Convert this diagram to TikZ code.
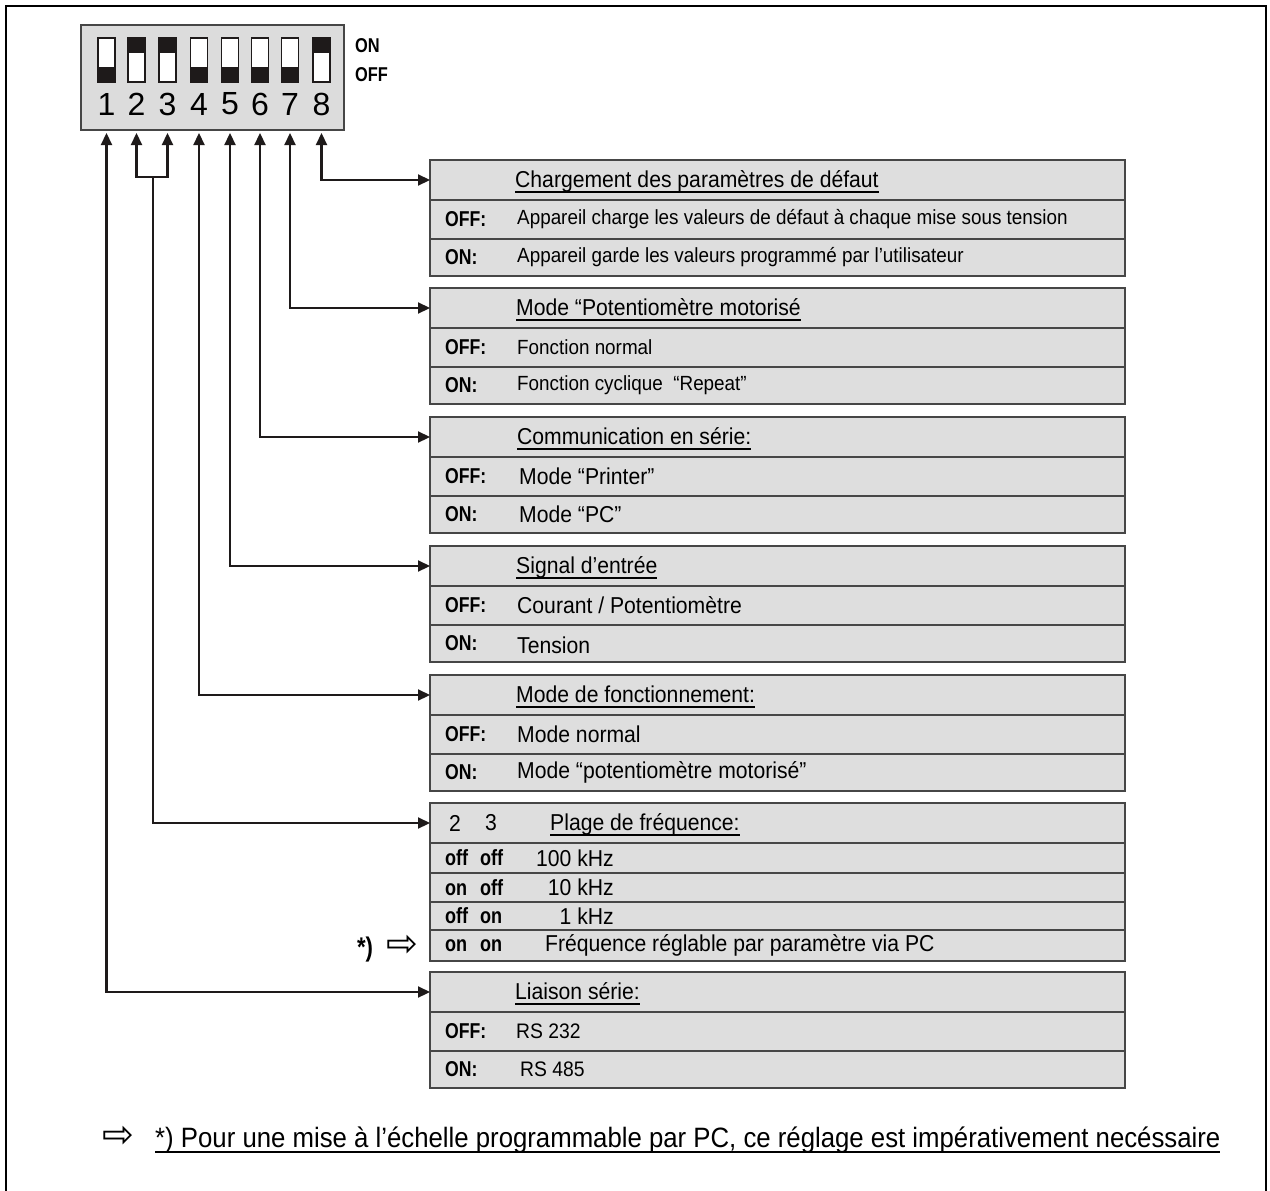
\documentclass[tikz,border=0pt]{standalone}
\usepackage{fontspec}
\setmainfont{Liberation Sans}[FakeStretch=0.92]
\newfontfamily\lblfont{Liberation Sans}[FakeStretch=0.82]
\newfontfamily\numfont{Liberation Sans}
\newfontfamily\symfont{DejaVu Sans}
\newcommand{\myul}[1]{\setbox0\hbox{#1}\rlap{\vrule height -3.8pt depth 5.6pt width \wd0}\box0}
\usetikzlibrary{arrows.meta}
\definecolor{cellgray}{RGB}{222,222,222}
\definecolor{dipgray}{RGB}{220,220,220}
\definecolor{bordergray}{RGB}{70,70,70}
\definecolor{swblack}{RGB}{30,26,26}
\tikzset{
  frame/.style={draw=black, line width=2pt},
  dipbox/.style={draw=bordergray, fill=dipgray, line width=1.5pt, minimum width=263pt, minimum height=105pt, inner sep=0pt},
  swbase/.style={draw=swblack, fill=white, line width=1.2pt, minimum width=17pt, minimum height=44pt, inner sep=0pt},
  swlow/.style={swbase, path picture={\fill[swblack] (path picture bounding box.south west) rectangle ([yshift=15pt]path picture bounding box.south east);}},
  swhigh/.style={swbase, path picture={\fill[swblack] (path picture bounding box.north west) rectangle ([yshift=-15pt]path picture bounding box.north east);}},
  num/.style={font=\numfont\fontsize{32}{36}\selectfont, inner sep=0pt},
  onoff/.style={font=\lblfont\bfseries\fontsize{20}{22}\selectfont, inner sep=0pt, anchor=west},
  cell/.style={draw=bordergray, fill=cellgray, line width=1.4pt, anchor=north west, minimum width=695pt, inner sep=0pt, outer sep=0pt},
  title/.style={font=\fontsize{23}{27}\selectfont, anchor=base west, inner sep=0pt},
  desc/.style={font=\fontsize{23}{27}\selectfont, anchor=west, inner sep=0pt},
  descsmall/.style={font=\fontsize{20.5}{24}\selectfont, anchor=west, inner sep=0pt},
  lbl/.style={font=\lblfont\bfseries\fontsize{21.5}{25}\selectfont, anchor=west, inner sep=0pt},
  combo/.style={font=\lblfont\bfseries\fontsize{22}{25}\selectfont, anchor=west, inner sep=0pt},
  tipA/.tip={Triangle[length=12pt,width=11pt]},
  conn/.style={draw=swblack, line width=2.2pt, {tipA}-{tipA}},
  connend/.style={draw=swblack, line width=2.2pt, -{tipA}},
  foot/.style={font=\fontsize{28}{32}\selectfont, anchor=base west, inner sep=0pt},
  sym/.style={font=\symfont\fontsize{38}{40}\selectfont, inner sep=0pt}
}
\begin{document}
\begin{tikzpicture}[x=1pt,y=-1pt]
\useasboundingbox (0,0) rectangle (1270,1191);
\draw[frame] (6,1195) -- (6,6) -- (1266,6) -- (1266,1195);

% DIP switch block
\node[dipbox] (dip) at (212.5,77.5) {};
\node[swlow]  (sw1) at (106.5,60) {};
\node[swhigh] (sw2) at (136.5,60) {};
\node[swhigh] (sw3) at (167.5,60) {};
\node[swlow]  (sw4) at (199,60) {};
\node[swlow]  (sw5) at (230,60) {};
\node[swlow]  (sw6) at (260,60) {};
\node[swlow]  (sw7) at (290,60) {};
\node[swhigh] (sw8) at (321.5,60) {};
\node[num] (n1) at (106.5,104) {1};
\node[num] (n2) at (136.5,104) {2};
\node[num] (n3) at (167.5,104) {3};
\node[num] (n4) at (199,104) {4};
\node[num] (n5) at (230,104) {5};
\node[num] (n6) at (260,104) {6};
\node[num] (n7) at (290,104) {7};
\node[num] (n8) at (321.5,104) {8};
\node[onoff] (onlbl) at (355,46) {ON};
\node[onoff] (offlbl) at (355,75) {OFF};

% Table 1
\node[cell, minimum height=40pt] (t1h) at (430,160) {};
\node[cell, minimum height=39pt] (t1a) at (430,200) {};
\node[cell, minimum height=37pt] (t1b) at (430,239) {};
\node[title] (t1t) at (515,187) {\myul{Chargement des paramètres de défaut}};
\node[lbl] (t1al) at (445,219.5) {OFF:};
\node[descsmall] (t1ad) at (517,219.5) {Appareil charge les valeurs de défaut à chaque mise sous tension};
\node[lbl] (t1bl) at (445,257.5) {ON:};
\node[descsmall] (t1bd) at (517,257.5) {Appareil garde les valeurs programmé par l’utilisateur};

% Table 2
\node[cell, minimum height=40pt] (t2h) at (430,288) {};
\node[cell, minimum height=39pt] (t2a) at (430,328) {};
\node[cell, minimum height=37pt] (t2b) at (430,367) {};
\node[title] (t2t) at (516,315) {\myul{Mode “Potentiomètre motorisé}};
\node[lbl] (t2al) at (445,347.5) {OFF:};
\node[descsmall] (t2ad) at (517,347.5) {Fonction normal};
\node[lbl] (t2bl) at (445,385.5) {ON:};
\node[descsmall] (t2bd) at (517,385.5) {Fonction cyclique \ “Repeat”};

% Table 3
\node[cell, minimum height=40pt] (t3h) at (430,417) {};
\node[cell, minimum height=39pt] (t3a) at (430,457) {};
\node[cell, minimum height=37pt] (t3b) at (430,496) {};
\node[title] (t3t) at (517,444) {\myul{Communication en série:}};
\node[lbl] (t3al) at (445,476.5) {OFF:};
\node[desc] (t3ad) at (519,476.5) {Mode “Printer”};
\node[lbl] (t3bl) at (445,514.5) {ON:};
\node[desc] (t3bd) at (519,514.5) {Mode “PC”};

% Table 4
\node[cell, minimum height=40pt] (t4h) at (430,546) {};
\node[cell, minimum height=39pt] (t4a) at (430,586) {};
\node[cell, minimum height=37pt] (t4b) at (430,625) {};
\node[title] (t4t) at (516,573) {\myul{Signal d’entrée}};
\node[lbl] (t4al) at (445,605.5) {OFF:};
\node[desc] (t4ad) at (517,605.5) {Courant / Potentiomètre};
\node[lbl] (t4bl) at (445,643.5) {ON:};
\node[desc] (t4bd) at (517,645.5) {Tension};

% Table 5
\node[cell, minimum height=40pt] (t5h) at (430,675) {};
\node[cell, minimum height=39pt] (t5a) at (430,715) {};
\node[cell, minimum height=37pt] (t5b) at (430,754) {};
\node[title] (t5t) at (516,702) {\myul{Mode de fonctionnement:}};
\node[lbl] (t5al) at (445,734.5) {OFF:};
\node[desc] (t5ad) at (517,734.5) {Mode normal};
\node[lbl] (t5bl) at (445,772.5) {ON:};
\node[desc] (t5bd) at (517,772.5) {Mode “potentiomètre motorisé”};

% Table 6
\node[cell, minimum height=40pt] (t6h) at (430,803) {};
\node[cell, minimum height=30pt] (t6a) at (430,843) {};
\node[cell, minimum height=29pt] (t6b) at (430,873) {};
\node[cell, minimum height=28pt] (t6c) at (430,902) {};
\node[cell, minimum height=31pt] (t6d) at (430,930) {};
\node[desc] (t6h2) at (449,823) {2};
\node[desc] (t6h3) at (485,823) {3};
\node[title] (t6t) at (550,830) {\myul{Plage de fréquence:}};
\node[combo] (t6al) at (445,858) {\makebox[35pt][l]{off}off};
\node[desc, anchor=east] (t6ad) at (614,858) {100 kHz};
\node[combo] (t6bl) at (445,887.5) {\makebox[35pt][l]{on}off};
\node[desc, anchor=east] (t6bd) at (614,887.5) {10 kHz};
\node[combo] (t6cl) at (445,916) {\makebox[35pt][l]{off}on};
\node[desc, anchor=east] (t6cd) at (614,916) {1 kHz};
\node[combo] (t6dl) at (445,945.5) {\makebox[35pt][l]{on}on};
\node[desc] (t6dd) at (545,945.5) {Fréquence réglable par paramètre via PC};
\node[font=\lblfont\bfseries\fontsize{27}{30}\selectfont, inner sep=0pt] (star) at (365,950) {*)};
\node[sym] (stararr) at (402,946) {⇨};

% Table 7
\node[cell, minimum height=40pt] (t7h) at (430,972) {};
\node[cell, minimum height=39pt] (t7a) at (430,1012) {};
\node[cell, minimum height=37pt] (t7b) at (430,1051) {};
\node[title] (t7t) at (515,999) {\myul{Liaison série:}};
\node[lbl] (t7al) at (445,1031.5) {OFF:};
\node[desc, font=\fontsize{21}{24}\selectfont] (t7ad) at (516,1031.5) {RS 232};
\node[lbl] (t7bl) at (445,1069.5) {ON:};
\node[desc, font=\fontsize{21}{24}\selectfont] (t7bd) at (520,1069.5) {RS 485};

% connectors
\coordinate (tipy) at (0,133);
\coordinate (j23) at (153,177);
\draw[conn] (sw8 |- tipy) |- (t1h.west);
\draw[conn] (sw7 |- tipy) |- (t2h.west);
\draw[conn] (sw6 |- tipy) |- (t3h.west);
\draw[conn] (sw5 |- tipy) |- (t4h.west);
\draw[conn] (sw4 |- tipy) |- (t5h.west);
\draw[conn] (sw2 |- tipy) -- (sw2 |- j23) -- (sw3 |- j23) -- (sw3 |- tipy);
\draw[connend] (j23) |- (t6h.west);
\draw[conn] (sw1 |- tipy) |- (t7h.west);

% footer
\node[sym] (footarr) at (118,1137) {⇨};
\node[foot] (foottxt) at (155,1147) {\myul{*) Pour une mise à l’échelle programmable par PC, ce réglage est impérativement necéssaire}};
\end{tikzpicture}
\end{document}
